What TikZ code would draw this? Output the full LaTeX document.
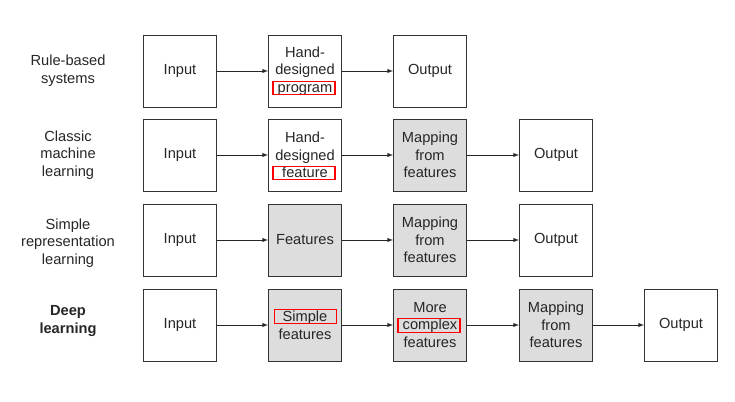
\documentclass[tikz,border=0pt]{standalone}
\usepackage{fontspec}
\setmainfont{Liberation Sans}
\usetikzlibrary{calc}
\definecolor{boxgray}{RGB}{221,221,221}
\begin{document}
\begin{tikzpicture}[>=latex,x=0.03cm,y=-0.03cm,
    blk/.style={draw=black!80,line width=0.8pt,minimum width=2.19cm,minimum height=2.16cm,
        align=center,inner sep=1pt,text=black!85,font=\fontsize{12.5}{15}\selectfont},
    shaded/.style={blk,fill=boxgray},
    rowlbl/.style={align=center,text=black!85,font=\fontsize{12.5}{15}\selectfont},
    redmark/.style={draw=red,line width=1pt,minimum width=1.86cm,minimum height=0.4cm,inner sep=0pt},
    arr/.style={->,line width=0.7pt,draw=black!85}]
\useasboundingbox (0,0) rectangle (735,402);
% row labels
\node[rowlbl] (lrule) at (68,71) {Rule-based\\systems};
\node[rowlbl] (lclassic) at (68,155) {Classic\\machine\\learning};
\node[rowlbl] (lsimple) at (68,243) {Simple\\representation\\learning};
\node[rowlbl,font=\fontsize{12.5}{15}\selectfont\bfseries] (ldeep) at (68,321) {Deep\\learning};
% input boxes
\foreach \r/\y in {1/71,2/155,3/240,4/325}
{
    \node[blk] (in\r) at (180,\y) {Input};
}
% rule-based systems
\node[blk] (prog1) at (305,71) {Hand-\\designed\\program};
\node[blk] (out1) at (430,71) {Output};
% classic machine learning
\node[blk] (feat2) at (305,155) {Hand-\\designed\\feature};
\node[shaded] (map2) at (430,155) {Mapping\\from\\features};
\node[blk] (out2) at (556,155) {Output};
% simple representation learning
\node[shaded] (feat3) at (305,240) {Features};
\node[shaded] (map3) at (430,240) {Mapping\\from\\features};
\node[blk] (out3) at (556,240) {Output};
% deep learning
\node[shaded] (simp4) at (305,325) {Simple\\features};
\node[shaded] (cplx4) at (430,325) {More\\complex\\features};
\node[shaded] (map4) at (556,325) {Mapping\\from\\features};
\node[blk] (out4) at (681,325) {Output};
% red marks
\node[redmark] (progmark) at ($(prog1)+(-1,17)$) {};
\node[redmark] (featmark) at ($(feat2)+(-1,18)$) {};
\node[redmark] (simpmark) at ($(simp4)+(0.5,-8.5)$) {};
\node[redmark] (cplxmark) at ($(cplx4)+(-1,0.5)$) {};
% arrows
\draw[arr] (in1)--(prog1);
\draw[arr] (prog1)--(out1);
\draw[arr] (in2)--(feat2);
\draw[arr] (feat2)--(map2);
\draw[arr] (map2)--(out2);
\draw[arr] (in3)--(feat3);
\draw[arr] (feat3)--(map3);
\draw[arr] (map3)--(out3);
\draw[arr] (in4)--(simp4);
\draw[arr] (simp4)--(cplx4);
\draw[arr] (cplx4)--(map4);
\draw[arr] (map4)--(out4);
\end{tikzpicture}
\end{document}
